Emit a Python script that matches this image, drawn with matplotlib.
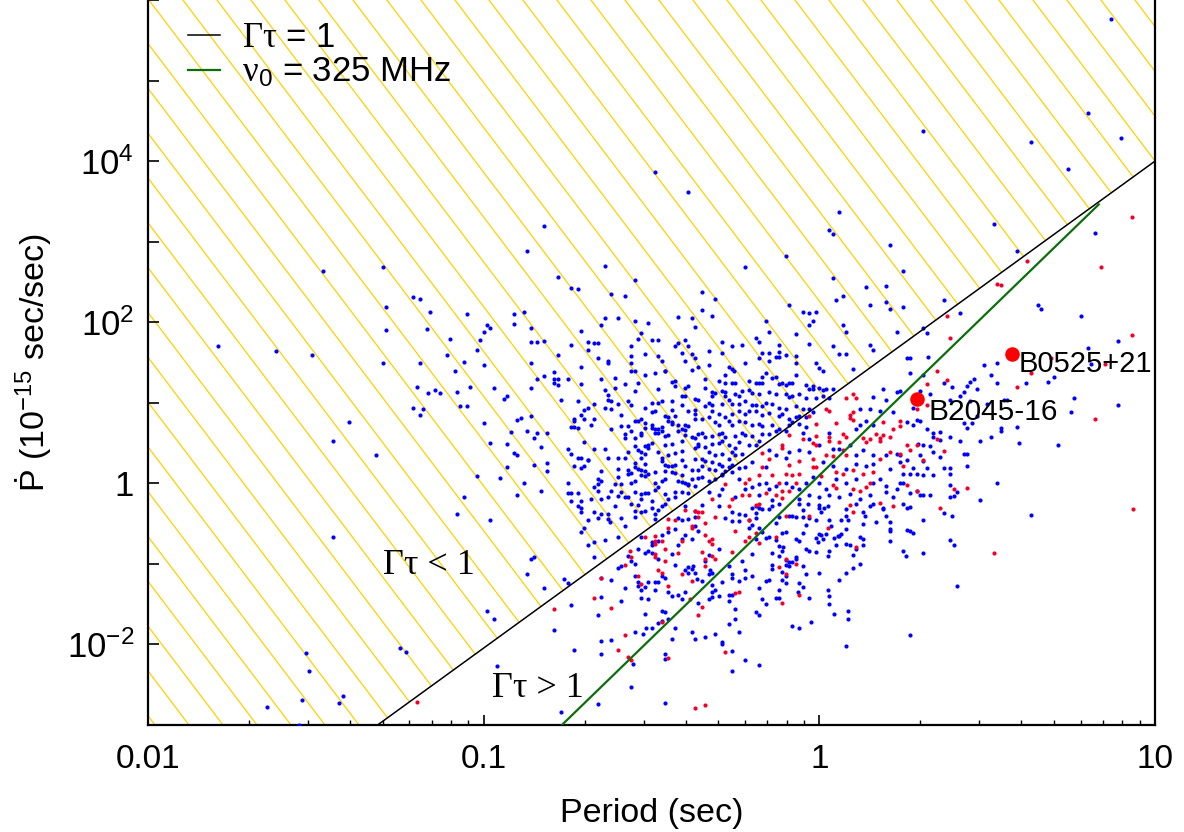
import math
import matplotlib
matplotlib.use("Agg")
import matplotlib.pyplot as plt
from matplotlib.patches import Polygon
from matplotlib.lines import Line2D
from matplotlib.ticker import FixedLocator, FuncFormatter, NullLocator, LogLocator

plt.rcParams['font.family'] = ['Liberation Sans', 'DejaVu Sans']
plt.rcParams['mathtext.fontset'] = 'custom'
plt.rcParams['mathtext.rm'] = 'Liberation Serif'
plt.rcParams['mathtext.it'] = 'Liberation Serif:italic'
plt.rcParams['mathtext.sf'] = 'Liberation Sans'

# ---------------- data (log10 P [s], log10 Pdot [1e-15 s/s]) ----------------
gamma_line_P = [0.0483, 10.0]          # Gamma*tau = 1
gamma_line_Pdot = [1.0e-3, 1.0e4]
nu_line_P = [0.171, 6.8]               # nu0 = 325 MHz
nu_line_Pdot = [1.0e-3, 2.9e3]

named_P = [3.75, 1.96]
named_Pdot = [40.0, 11.0]
named_labels = ['B0525+21', 'B2045-16']

blue_log = [
    # upper-left sparse
    (-1.48, 2.63), (-1.30, 2.68), (-1.29, 2.19), (-1.21, 2.31), (-1.19, 2.29), (-1.16, 2.13),
    (-1.05, 2.10), (-1.29, 1.90), (-1.17, 1.92), (-1.10, 1.79), (-1.01, 1.78), (-1.00, 1.88),
    (-0.99, 1.97), (-0.98, 1.93), (-1.79, 1.71), (-1.62, 1.64), (-1.51, 1.59), (-1.30, 1.50),
    (-1.19, 1.50), (-1.11, 1.59), (-1.06, 1.51), (-1.02, 1.66), (-1.00, 1.47),
    # upper middle
    (-0.49, 3.86), (-0.39, 3.62), (-0.82, 3.19), (-0.87, 2.88), (-0.64, 2.70), (-0.78, 2.56),
    (-0.55, 2.53), (-0.22, 2.68), (-0.10, 2.82), (0.06, 3.37), (0.03, 3.14), (0.04, 3.09), (0.04, 2.55),
    # upper right
    (0.87, 5.76), (0.31, 4.38), (0.63, 4.24), (0.80, 4.60), (0.90, 4.29), (0.74, 3.90), (0.52, 3.22),
    (0.21, 2.96), (0.25, 2.63), (0.59, 2.88), (0.82, 3.11),
    # lower-left
    (-1.085, 1.40), (-1.20, 1.19), (-1.165, 1.12), (-1.145, 1.16), (-1.13, 1.12), (-1.08, 1.13),
    (-1.04, 1.20), (-0.97, 1.18), (-1.21, 0.93), (-1.19, 0.85), (-1.18, 0.92), (-1.07, 0.96),
    (-1.05, 0.96), (-1.00, 0.75), (-0.98, 0.50), (-1.40, 0.76), (-1.45, 0.52), (-1.32, 0.35),
    (-1.02, 0.09), (-1.06, -0.17), (-1.08, -0.38), (-0.98, -0.45), (-1.45, -0.67), (-0.99, -1.59),
    (-0.97, -1.69), (-1.25, -2.05), (-1.23, -2.09), (-1.53, -2.11), (-1.52, -2.33), (-1.42, -2.64),
    (-1.43, -2.73), (-1.54, -2.69), (-1.645, -2.78), (-1.55, -3.0), (-0.96, -2.27),
    # centre-left block
    (-0.74, 2.43), (-0.72, 2.41), (-0.62, 2.35), (-0.58, 2.32), (-0.91, 2.10), (-0.88, 2.13),
    (-0.91, 1.98), (-0.64, 2.05), (-0.60, 2.05), (-0.65, 1.97), (-0.55, 2.02), (-0.51, 1.99),
    (-0.42, 2.07), (-0.38, 2.05), (-0.86, 1.93), (-0.71, 1.89), (-0.53, 1.87), (-0.37, 1.94),
    (-0.86, 1.76), (-0.84, 1.76), (-0.82, 1.77), (-0.74, 1.72), (-0.69, 1.76), (-0.67, 1.74),
    (-0.66, 1.74), (-0.69, 1.66), (-0.54, 1.79), (-0.56, 1.71), (-0.50, 1.78), (-0.48, 1.78),
    (-0.43, 1.71), (-0.42, 1.74), (-0.40, 1.78), (-0.39, 1.71), (-0.78, 1.59), (-0.66, 1.55),
    (-0.63, 1.52), (-0.63, 1.50), (-0.56, 1.58), (-0.52, 1.61), (-0.48, 1.58), (-0.47, 1.52),
    (-0.41, 1.62), (-0.38, 1.60), (-0.37, 1.55), (-0.86, 1.49), (-0.71, 1.44), (-0.56, 1.49),
    (-0.56, 1.40), (-0.55, 1.40), (-0.49, 1.37), (-0.46, 1.40), (-0.46, 1.39), (-0.40, 1.52),
    (-0.38, 1.41), (-0.36, 1.44), (-0.79, 1.38), (-0.84, 1.30), (-0.82, 1.33), (-0.79, 1.30),
    (-0.78, 1.30), (-0.79, 1.24), (-0.78, 1.22), (-0.75, 1.29), (-0.71, 1.23), (-0.65, 1.29),
    (-0.61, 1.31), (-0.58, 1.23), (-0.54, 1.24), (-0.52, 1.34), (-0.43, 1.27), (-0.44, 1.26),
    (-0.43, 1.21), (-0.40, 1.18), (-0.39, 1.21), (-0.86, 1.18), (-0.55, 1.15), (-0.48, 1.17),
    (-0.64, 1.16), (-0.61, 1.18), (-0.93, 1.09), (-0.94, 1.05), (-0.77, 1.03), (-0.72, 1.02),
    (-0.69, 0.94), (-0.67, 0.98), (-0.70, 0.91), (-0.63, 1.10), (-0.63, 1.04), (-0.62, 1.02),
    (-0.60, 0.98), (-0.57, 1.02), (-0.56, 0.97), (-0.50, 1.00), (-0.48, 1.00), (-0.47, 1.02),
    (-0.44, 1.02), (-0.41, 1.08), (-0.40, 1.08), (-0.37, 1.05), (-0.41, 0.97), (-0.64, 0.94),
    (-0.62, 0.92), (-0.59, 0.85), (-0.52, 0.93), (-0.50, 0.89), (-0.49, 0.90), (-0.44, 0.91),
    (-0.39, 0.90), (-0.37, 0.91), (-0.89, 0.81), (-0.90, 0.79), (-0.86, 0.83), (-0.73, 0.80),
    (-0.71, 0.85), (-0.70, 0.80), (-0.73, 0.78), (-0.74, 0.70), (-0.73, 0.70), (-0.72, 0.69),
    (-0.68, 0.72), (-0.67, 0.80), (-0.62, 0.68), (-0.59, 0.71), (-0.57, 0.71), (-0.55, 0.78),
    (-0.54, 0.78), (-0.53, 0.80), (-0.52, 0.75), (-0.52, 0.69), (-0.50, 0.73), (-0.50, 0.69),
    (-0.49, 0.68), (-0.48, 0.67), (-0.47, 0.70), (-0.46, 0.83), (-0.45, 0.82), (-0.45, 0.78),
    (-0.44, 0.76), (-0.43, 0.83), (-0.44, 0.74), (-0.42, 0.73), (-0.41, 0.67), (-0.40, 0.73),
    (-0.39, 0.71), (-0.37, 0.80), (-0.37, 0.86), (-0.92, 0.64), (-0.87, 0.65), (-0.84, 0.63),
    (-0.81, 0.63), (-0.85, 0.56), (-0.93, 0.49), (-0.83, 0.45), (-0.70, 0.51), (-0.58, 0.61),
    (-0.58, 0.56), (-0.56, 0.65), (-0.55, 0.56), (-0.53, 0.63), (-0.53, 0.60), (-0.49, 0.63),
    (-0.48, 0.63), (-0.47, 0.65), (-0.46, 0.59), (-0.45, 0.60), (-0.42, 0.65), (-0.40, 0.66),
    (-0.40, 0.60), (-0.37, 0.56), (-0.36, 0.61), (-0.51, 0.48), (-0.52, 0.46), (-0.50, 0.50),
    (-0.46, 0.48), (-0.44, 0.49), (-0.41, 0.53), (-0.38, 0.57), (-0.37, 0.44), (-0.91, 0.38),
    (-0.90, 0.35), (-0.75, 0.43), (-0.74, 0.37), (-0.67, 0.43), (-0.64, 0.43), (-0.55, 0.46),
    (-0.54, 0.41), (-0.53, 0.39), (-0.53, 0.32), (-0.52, 0.36), (-0.51, 0.44), (-0.48, 0.39),
    (-0.47, 0.31), (-0.45, 0.35), (-0.43, 0.38), (-0.41, 0.40), (-0.36, 0.46), (-0.71, 0.31),
    (-0.72, 0.32), (-0.69, 0.29), (-0.63, 0.31), (-0.60, 0.31), (-0.58, 0.31), (-0.55, 0.25),
    (-0.52, 0.24), (-0.57, 0.39), (-0.57, 0.17), (-0.57, 0.12), (-0.56, 0.13), (-0.55, 0.20),
    (-0.54, 0.18), (-0.53, 0.16), (-0.52, 0.15), (-0.47, 0.28), (-0.46, 0.23), (-0.45, 0.22),
    (-0.44, 0.21), (-0.43, 0.23), (-0.41, 0.29), (-0.40, 0.22), (-0.37, 0.30), (-0.85, 0.23),
    (-0.81, 0.25), (-0.73, 0.22), (-0.71, 0.19), (-0.70, 0.22), (-0.65, 0.15), (-0.69, 0.29),
    (-0.60, 0.18), (-0.53, 0.10), (-0.51, 0.12), (-0.49, 0.14), (-0.46, 0.15), (-0.44, 0.14),
    (-0.43, 0.13), (-0.41, 0.10), (-0.38, 0.17), (-0.36, 0.17), (-0.93, 0.20), (-0.81, 0.15),
    (-0.95, 0.07), (-0.88, 0.00), (-0.66, 0.06), (-0.65, 0.03), (-0.61, -0.01), (-0.59, -0.01),
    (-0.60, 0.08), (-0.56, 0.00), (-0.55, 0.03), (-0.52, 0.09), (-0.49, 0.00), (-0.47, 0.03),
    (-0.46, 0.05), (-0.42, 0.03), (-0.41, 0.02), (-0.40, 0.00), (-0.39, -0.02), (-0.38, 0.06),
    (-0.37, -0.03), (-0.36, 0.07), (-0.83, -0.10), (-0.75, 0.00), (-0.75, -0.12), (-0.74, -0.12),
    (-0.72, -0.12), (-0.67, -0.05), (-0.66, -0.10), (-0.66, -0.01), (-0.62, -0.09), (-0.59, -0.11),
    (-0.57, -0.17), (-0.55, -0.11), (-0.53, -0.13), (-0.52, -0.12), (-0.51, -0.12), (-0.49, -0.08),
    (-0.48, -0.04), (-0.46, -0.13), (-0.43, -0.11), (-0.41, -0.11), (-0.39, -0.12), (-0.39, -0.01),
    (-0.90, -0.14), (-0.74, -0.22), (-0.71, -0.22), (-0.68, -0.19), (-0.65, -0.20), (-0.63, -0.17),
    (-0.60, -0.16), (-0.58, -0.17), (-0.53, -0.20), (-0.50, -0.22), (-0.45, -0.19), (-0.43, -0.17),
    # centre block
    (-0.35, 2.37), (-0.31, 2.29), (-0.35, 2.15), (-0.32, 2.08), (0.14, 2.44), (0.20, 2.45),
    (0.05, 2.27), (0.07, 2.33), (0.20, 2.25), (0.21, 2.17), (0.15, 2.21), (-0.09, 2.22),
    (-0.05, 2.13), (-0.03, 2.12), (-0.01, 2.13), (-0.02, 2.01), (-0.03, 1.97), (-0.16, 2.02),
    (0.07, 1.96), (0.08, 1.88), (0.23, 1.88), (-0.15, 1.88), (-0.07, 1.85), (-0.29, 1.76),
    (-0.26, 1.70), (-0.23, 1.72), (-0.19, 1.81), (-0.18, 1.75), (-0.12, 1.72), (-0.03, 1.73),
    (0.04, 1.71), (0.08, 1.61), (0.06, 1.61), (0.10, 1.42), (0.15, 1.72), (0.16, 1.66),
    (-0.33, 1.64), (-0.29, 1.62), (-0.17, 1.62), (-0.15, 1.62), (-0.12, 1.63), (-0.13, 1.57),
    (-0.12, 1.57), (-0.10, 1.59), (-0.07, 1.58), (-0.22, 1.49), (-0.18, 1.55), (-0.15, 1.52),
    (-0.33, 1.47), (-0.07, 1.49), (-0.01, 1.50), (0.00, 1.43), (0.01, 1.40), (-0.27, 1.44),
    (-0.26, 1.42), (-0.255, 1.40), (-0.28, 1.34), (-0.34, 1.29), (-0.30, 1.27), (-0.28, 1.25),
    (-0.26, 1.25), (-0.25, 1.24), (-0.21, 1.27), (-0.19, 1.25), (-0.18, 1.25), (-0.17, 1.24),
    (-0.17, 1.32), (-0.16, 1.37), (-0.14, 1.31), (-0.13, 1.32), (-0.12, 1.23), (-0.11, 1.25),
    (-0.10, 1.22), (-0.09, 1.25), (-0.08, 1.25), (-0.07, 1.35), (-0.04, 1.22), (-0.02, 1.21),
    (-0.02, 1.17), (0.00, 1.18), (0.01, 1.16), (0.02, 1.17), (0.04, 1.17), (-0.03, 1.17),
    (-0.34, 1.18), (-0.32, 1.13), (-0.32, 1.09), (-0.31, 1.12), (-0.29, 1.15), (-0.28, 1.14),
    (-0.28, 1.09), (-0.25, 1.11), (-0.24, 1.08), (-0.23, 1.15), (-0.21, 1.16), (-0.20, 1.12),
    (-0.18, 1.11), (-0.15, 1.13), (-0.13, 1.11), (-0.10, 1.11), (-0.09, 1.07), (-0.08, 1.09),
    (-0.06, 1.11), (-0.04, 1.06), (-0.01, 1.06), (0.01, 1.08), (0.03, 1.06), (-0.36, 1.03),
    (-0.34, 0.96), (-0.33, 1.00), (-0.32, 0.97), (-0.29, 0.98), (-0.27, 1.04), (-0.26, 0.99),
    (-0.24, 0.99), (-0.22, 1.02), (-0.20, 0.97), (-0.19, 0.97), (-0.17, 0.96), (-0.16, 1.00),
    (-0.14, 0.99), (-0.12, 0.94), (-0.10, 0.92), (-0.07, 0.96), (-0.05, 0.92), (-0.03, 0.92),
    (-0.02, 0.88), (-0.32, 0.90), (-0.30, 0.86), (-0.28, 0.82), (-0.26, 0.86), (-0.24, 0.90),
    (-0.22, 0.86), (-0.21, 0.90), (-0.19, 0.90), (-0.17, 0.85), (-0.15, 0.87), (-0.12, 0.83),
    (-0.11, 0.86), (-0.09, 0.80), (-0.07, 0.82), (-0.06, 0.84), (-0.04, 0.82), (-0.35, 0.80),
    (-0.33, 0.82), (-0.31, 0.76), (-0.30, 0.72), (-0.27, 0.77), (-0.26, 0.72), (-0.24, 0.78),
    (-0.22, 0.76), (-0.20, 0.72), (-0.18, 0.74), (-0.17, 0.71), (-0.14, 0.72), (-0.12, 0.68),
    (-0.10, 0.65), (-0.09, 0.72), (-0.08, 0.76), (-0.06, 0.74), (-0.04, 0.70), (-0.35, 0.63),
    (-0.34, 0.57), (-0.32, 0.59), (-0.30, 0.61), (-0.29, 0.63), (-0.28, 0.57), (-0.25, 0.59),
    (-0.23, 0.63), (-0.22, 0.60), (-0.20, 0.59), (-0.17, 0.61), (-0.15, 0.61), (-0.13, 0.65),
    (-0.36, 0.49), (-0.34, 0.45), (-0.32, 0.49), (-0.30, 0.50), (-0.29, 0.52), (-0.27, 0.48),
    (-0.25, 0.44), (-0.24, 0.51), (-0.21, 0.47), (-0.19, 0.47), (-0.18, 0.53), (-0.33, 0.39),
    (-0.31, 0.35), (-0.29, 0.37), (-0.27, 0.30), (-0.26, 0.39), (-0.25, 0.35), (-0.23, 0.37),
    (-0.35, 0.30), (-0.34, 0.28), (-0.32, 0.26), (-0.30, 0.24), (-0.29, 0.22), (-0.27, 0.20),
    (-0.26, 0.23), (-0.35, 0.22), (-0.33, 0.18), (-0.31, 0.16), (-0.29, 0.12), (-0.28, 0.15),
    (-0.26, 0.14), (-0.24, 0.19), (-0.35, 0.08), (-0.33, 0.03), (-0.31, 0.05), (-0.29, 0.10),
    (0.12, 0.92), (0.15, 0.92), (0.18, 0.90), (0.20, 1.03), (0.23, 1.13), (0.16, 1.07),
    (0.19, 1.17), (0.14, 0.77), (0.16, 0.72), (0.22, 0.88), (0.11, 0.68), (0.12, 0.72),
    (0.03, 0.63), (-0.05, 0.63), (-0.03, 0.55), (0.00, 0.47), (0.04, 0.43), (0.06, 0.43),
    (0.09, 0.47), (0.11, 0.35), (0.13, 0.41), (0.16, 0.35), (0.20, 0.35), (0.23, 0.37),
    (0.24, 0.26), (0.21, 0.18), (0.16, 0.24), (0.14, 0.22), (0.11, 0.24), (0.08, 0.18),
    (0.04, 0.22), (0.01, 0.26), (-0.03, 0.39), (-0.06, 0.41), (-0.09, 0.39), (-0.10, 0.32),
    (-0.13, 0.35), (-0.15, 0.41), (-0.16, 0.20), (-0.20, 0.26), (-0.22, 0.20), (-0.24, 0.05),
    (-0.22, -0.07), (-0.20, -0.05), (-0.18, -0.01), (-0.16, 0.01), (-0.15, -0.07), (-0.13, -0.03),
    (-0.10, 0.01), (-0.08, -0.04), (-0.06, -0.07), (-0.04, 0.01), (-0.02, 0.08), (0.00, 0.01),
    (0.02, -0.07), (0.05, 0.05), (0.08, 0.01), (0.11, 0.05), (0.16, 0.01), (0.18, 0.05),
    (0.20, -0.03), (0.23, -0.07), (0.24, 0.01), (-0.29, -0.07), (-0.30, -0.15), (-0.25, -0.17),
    (-0.18, -0.15), (-0.14, -0.21), (-0.06, -0.19), (-0.03, -0.15), (0.00, -0.17), (0.03, -0.15),
    (0.06, -0.17), (0.09, -0.13), (0.12, -0.19), (0.15, -0.15), (0.20, -0.11), (0.22, -0.17),
    (-0.33, -0.11),
    # right block
    (0.25, 2.19), (0.37, 2.28), (0.42, 2.12), (0.31, 1.93), (0.32, 1.87), (0.65, 2.21),
    (0.66, 2.17), (0.78, 2.08), (0.89, 1.77), (0.80, 1.68), (0.26, 1.56), (0.27, 1.56),
    (0.325, 1.57), (0.49, 1.47), (0.53, 1.49), (0.51, 1.34), (0.53, 1.25), (0.45, 1.26),
    (0.46, 1.29), (0.44, 1.21), (0.47, 1.17), (0.43, 1.13), (0.395, 1.19), (0.615, 1.24),
    (0.68, 1.26), (0.70, 1.32), (0.81, 1.48), (0.27, 1.37), (0.31, 1.35), (0.37, 1.25),
    (0.24, 1.15), (0.30, 1.15), (0.33, 1.11), (0.42, 1.09), (0.39, 1.04), (0.45, 1.02),
    (0.50, 0.99), (0.55, 1.04), (0.56, 1.03), (0.76, 1.06), (0.75, 0.89), (0.89, 0.97),
    (0.28, 0.94), (0.26, 0.76), (0.28, 0.72), (0.29, 0.79), (0.30, 0.77), (0.32, 0.68),
    (0.34, 0.63), (0.34, 0.58), (0.36, 0.64), (0.39, 0.58), (0.43, 0.75), (0.44, 0.69),
    (0.455, 0.75), (0.47, 0.84), (0.42, 0.53), (0.48, 0.53), (0.51, 0.58), (0.54, 0.69),
    (0.54, 0.65), (0.59, 0.70), (0.595, 0.50), (0.71, 0.48), (0.295, 0.49), (0.31, 0.48),
    (0.33, 0.46), (0.36, 0.54), (0.36, 0.33), (0.34, 0.39), (0.30, 0.35), (0.31, 0.28),
    (0.32, 0.19), (0.34, 0.10), (0.37, 0.19), (0.39, 0.19), (0.39, 0.11), (0.43, 0.36),
    (0.44, 0.37), (0.44, 0.22), (0.48, -0.21), (0.53, 0.00), (0.39, -0.02), (0.41, -0.11),
    (0.40, -0.16), (0.39, -0.17), (0.25, 0.11), (0.27, 0.12), (0.26, 0.29), (0.24, 0.35),
    (0.28, 0.19), (0.29, 0.11), (0.31, 0.10), (0.27, -0.12), (0.29, -0.10), (0.30, -0.15),
    (0.31, -0.14), (0.33, -0.14), (0.25, 0.01),
    # lower-centre-left
    (-0.71, -0.30), (-0.71, -0.35), (-0.72, -0.28), (-0.69, -0.46), (-0.67, -0.36), (-0.66, -0.43),
    (-0.65, -0.38), (-0.63, -0.44), (-0.625, -0.48), (-0.63, -0.38), (-0.61, -0.28), (-0.59, -0.43),
    (-0.58, -0.53), (-0.56, -0.26), (-0.55, -0.34), (-0.55, -0.42), (-0.54, -0.27), (-0.53, -0.36),
    (-0.52, -0.34), (-0.50, -0.30), (-0.49, -0.44), (-0.49, -0.38), (-0.48, -0.33), (-0.47, -0.28),
    (-0.46, -0.26), (-0.71, -0.61), (-0.70, -0.56), (-0.69, -0.77), (-0.67, -0.73), (-0.64, -0.70),
    (-0.67, -0.91), (-0.60, -0.66), (-0.86, -0.94), (-0.85, -0.92), (-0.87, -1.13), (-0.82, -1.30),
    (-0.76, -1.19), (-0.75, -1.24), (-0.74, -1.51), (-0.79, -1.82),
    (-0.40, -0.28), (-0.42, -0.43), (-0.41, -0.46), (-0.39, -0.44), (-0.37, -0.42), (-0.37, -0.53),
    (-0.37, -0.34), (-0.43, -0.57), (-0.45, -0.60), (-0.47, -0.64), (-0.48, -0.71), (-0.50, -0.73),
    (-0.51, -0.84), (-0.50, -0.86), (-0.50, -0.77), (-0.48, -0.94), (-0.52, -0.86), (-0.53, -0.67),
    (-0.54, -0.82), (-0.55, -1.00), (-0.56, -0.97), (-0.57, -0.90), (-0.59, -1.02), (-0.60, -1.05),
    (-0.62, -1.20), (-0.65, -1.17), (-0.65, -1.41), (-0.66, -1.64), (-0.65, -1.96), (-0.62, -1.94),
    (-0.59, -1.46), (-0.58, -1.30), (-0.55, -1.15), (-0.54, -1.22), (-0.54, -1.27), (-0.53, -1.33),
    (-0.52, -1.29), (-0.51, -1.23), (-0.51, -1.44), (-0.49, -1.23), (-0.48, -1.22), (-0.49, -1.33),
    (-0.47, -1.15), (-0.46, -1.18), (-0.45, -1.35), (-0.45, -1.69), (-0.44, -1.40), (-0.42, -1.39),
    (-0.41, -1.44), (-0.40, -1.08), (-0.39, -1.11), (-0.39, -1.04), (-0.38, -1.06), (-0.375, -1.02),
    (-0.37, -1.11), (-0.365, -1.19), (-0.36, -1.48), (-0.40, -1.35), (-0.43, -1.01), (-0.44, -0.88),
    (-0.42, -0.77), (-0.41, -0.69), (-0.40, -0.64), (-0.38, -0.69), (-0.36, -0.59), (-0.47, -1.58),
    (-0.46, -1.60), (-0.47, -1.71), (-0.50, -1.79), (-0.515, -1.79), (-0.525, -1.87), (-0.55, -1.84),
    (-0.52, -1.62), (-0.48, -1.73), (-0.43, -1.79), (-0.38, -1.85), (-0.37, -1.93), (-0.44, -1.93),
    (-0.46, -2.12), (-0.46, -2.18), (-0.555, -2.24), (-0.56, -2.53), (-0.65, -2.12), (-0.73, -2.07),
    (-0.77, -2.84), (-0.66, -2.74), (-0.46, -2.73), (-0.53, -1.42),
    # lower-centre
    (-0.35, -0.27), (-0.30, -0.28), (-0.26, -0.35), (-0.28, -0.43), (-0.26, -0.47), (-0.24, -0.47),
    (-0.24, -0.38), (-0.22, -0.39), (-0.21, -0.45), (-0.20, -0.30), (-0.19, -0.28), (-0.18, -0.31),
    (-0.17, -0.32), (-0.19, -0.37), (-0.19, -0.43), (-0.21, -0.56), (-0.20, -0.52), (-0.18, -0.56),
    (-0.15, -0.32), (-0.14, -0.28), (-0.12, -0.26), (-0.12, -0.42), (-0.09, -0.41), (-0.08, -0.40),
    (-0.07, -0.42), (-0.06, -0.26), (-0.035, -0.26), (-0.13, -0.49), (-0.17, -0.60), (-0.15, -0.67),
    (-0.13, -0.70), (-0.11, -0.62), (-0.10, -0.61), (-0.12, -0.78), (-0.11, -0.84), (-0.107, -0.79),
    (-0.12, -0.90), (-0.10, -0.95), (-0.09, -0.98), (-0.08, -0.98), (-0.10, -1.01), (-0.09, -1.03),
    (-0.11, -1.10), (-0.14, -1.01), (-0.14, -0.86), (-0.16, -0.68), (-0.19, -0.69), (-0.20, -0.88),
    (-0.23, -0.97), (-0.22, -1.07), (-0.20, -1.15), (-0.22, -1.17), (-0.24, -1.21), (-0.26, -1.13),
    (-0.26, -1.18), (-0.27, -1.03), (-0.30, -0.82), (-0.33, -0.89), (-0.34, -0.97), (-0.33, -1.13),
    (-0.32, -1.11), (-0.325, -1.08), (-0.32, -1.26), (-0.29, -1.23), (-0.35, -1.21), (-0.32, -1.35),
    (-0.31, -1.33), (-0.30, -1.40), (-0.32, -1.41), (-0.33, -1.44), (-0.27, -1.39), (-0.26, -1.39),
    (-0.27, -1.46), (-0.18, -1.30), (-0.16, -1.21), (-0.15, -1.20), (-0.14, -1.06), (-0.12, -1.32),
    (-0.12, -1.42), (-0.11, -1.20), (-0.10, -1.24), (-0.10, -1.15), (-0.07, -0.69), (-0.06, -0.72),
    (-0.05, -0.62), (-0.04, -0.52), (-0.05, -0.42), (-0.05, -0.33), (-0.03, -0.43), (-0.01, -0.45),
    (0.00, -0.31), (0.00, -0.27), (0.015, -0.30), (0.025, -0.28), (0.005, -0.36), (0.03, -0.45),
    (0.035, -0.53), (0.02, -0.63), (0.005, -0.64), (-0.01, -0.68), (-0.005, -0.73), (-0.03, -0.84),
    (-0.04, -0.82), (-0.07, -0.92), (-0.07, -0.94), (-0.05, -1.02), (-0.04, -1.13), (-0.06, -1.24),
    (-0.065, -1.35), (-0.05, -1.29), (-0.03, -1.42), (-0.01, -0.85), (0.00, -0.63), (0.01, -0.69),
    (0.03, -0.84), (0.00, -1.11), (0.045, -0.68), (0.05, -0.76), (0.055, -0.65), (0.06, -0.65),
    (0.065, -0.63), (0.08, -0.75), (0.09, -0.77), (0.11, -0.82), (0.10, -0.89), (0.12, -0.67),
    (0.13, -0.77), (0.13, -0.69), (0.08, -0.57), (0.08, -0.40), (0.085, -0.46), (0.065, -0.45),
    (0.08, -0.32), (0.11, -0.26), (0.13, -0.36), (0.135, -0.40), (0.15, -0.28), (0.16, -0.26),
    (0.17, -0.48), (0.19, -0.30), (0.19, -0.32), (0.20, -0.40), (0.21, -0.48), (0.21, -0.57),
    (0.21, -0.59), (0.21, -0.71), (0.13, -0.50), (0.12, -1.00), (0.10, -1.05), (0.08, -1.11),
    (0.06, -1.20), (0.03, -1.40), (0.025, -1.33), (0.03, -1.50), (0.045, -1.62), (0.085, -1.59),
    (0.085, -1.69), (0.08, -2.02), (0.025, -0.90), (-0.025, -1.72), (-0.06, -1.79), (-0.08, -1.77),
    (-0.17, -1.44), (-0.16, -1.50), (-0.19, -1.60), (-0.18, -1.64), (-0.27, -1.75), (-0.25, -1.69),
    (-0.25, -1.56), (-0.24, -1.84), (-0.31, -1.87), (-0.34, -1.91), (-0.29, -1.97), (-0.29, -2.00),
    (-0.26, -2.08), (-0.22, -2.19), (-0.18, -2.26), (-0.26, -2.33), (-0.13, -1.42),
    # lower right
    (0.25, -0.26), (0.26, -0.31), (0.27, -0.29), (0.31, -0.46), (0.37, -0.37), (0.395, -0.41),
    (0.63, -0.39), (0.26, -0.58), (0.27, -0.59), (0.28, -0.62), (0.39, -0.70), (0.40, -0.76),
    (0.25, -0.84), (0.257, -0.90), (0.31, -0.87), (0.41, -1.27), (0.27, -1.88),
]

red_log = [
    (0.62, 2.76), (0.93, 3.31), (0.84, 2.69), (0.53, 2.47), (-1.20, -2.72),
    (0.08, 1.06), (0.10, 1.11), (0.11, 1.06), (0.02, 0.92), (0.03, 0.90), (0.09, 0.85),
    (0.10, 0.88), (0.09, 0.81), (0.10, 0.79), (-0.03, 0.84), (-0.01, 0.74), (0.05, 0.75),
    (0.07, 0.61), (0.08, 0.57), (0.06, 0.51), (0.03, 0.57), (0.03, 0.52), (-0.09, 0.60),
    (-0.11, 0.47), (-0.02, 0.50), (-0.01, 0.47), (-0.01, 0.59), (-0.05, 0.55), (-0.17, 0.38),
    (-0.15, 0.30), (-0.09, 0.23), (-0.11, 0.44), (-0.06, 0.28), (-0.02, 0.30), (0.02, 0.35),
    (0.04, 0.34), (0.07, 0.41), (0.08, 0.35), (0.13, 0.56), (0.14, 0.51), (0.15, 0.55),
    (0.17, 0.61), (0.18, 0.56), (0.19, 0.60), (0.21, 0.58), (0.18, 0.52), (0.19, 0.76),
    (0.22, 0.68), (0.21, 0.39), (0.24, 0.78), (-0.28, -0.01), (-0.26, -0.19), (-0.22, 0.01),
    (-0.21, 0.05), (-0.18, 0.10), (-0.17, 0.20), (-0.14, 0.10), (-0.12, 0.01), (-0.11, -0.09),
    (-0.10, 0.12), (-0.08, 0.10), (-0.07, 0.01), (-0.06, 0.11), (-0.02, 0.20), (-0.01, 0.20),
    (0.005, 0.09), (0.05, 0.14), (0.07, 0.12), (0.05, -0.06), (0.04, -0.02), (0.10, -0.07),
    (0.10, 0.16), (0.13, 0.12), (0.15, 0.01), (0.14, -0.04), (0.12, -0.09), (0.16, 0.14),
    (0.18, 0.30), (-0.32, -0.20), (-0.23, -0.15), (-0.21, -0.15), (-0.16, -0.12), (-0.13, -0.15),
    (-0.09, -0.10), (-0.11, -0.18),
    (0.54, 2.46), (0.38, 2.08), (0.39, 1.81), (0.35, 1.40), (0.38, 1.28), (0.32, 1.23),
    (0.59, 1.19), (0.93, 1.84), (0.82, 0.80), (0.69, 1.55), (0.85, 1.48), (0.63, 1.37),
    (0.29, 0.92), (0.32, 0.97), (0.24, 0.71), (0.35, 0.55), (0.29, 0.48), (0.27, 0.42),
    (0.37, 0.40), (0.31, 0.29), (0.26, 0.48), (0.25, 0.22), (0.24, 0.36), (0.26, -0.02),
    (0.40, -0.07), (0.44, -0.06), (0.29, -0.10),
    (-0.52, -0.67), (-0.49, -0.65), (-0.49, -0.71), (-0.49, -0.75), (-0.47, -0.72), (-0.46, -0.82),
    (-0.45, -0.55), (-0.45, -0.44), (-0.43, -0.46), (-0.40, -0.33), (-0.38, -0.53), (-0.38, -0.55),
    (-0.37, -0.34), (-0.36, -0.42), (-0.565, -0.84), (-0.56, -0.91), (-0.58, -1.01), (-0.54, -1.15),
    (-0.53, -1.25), (-0.49, -0.88), (-0.49, -0.92), (-0.48, -1.08), (-0.47, -1.11), (-0.46, -0.97),
    (-0.42, -0.87), (-0.41, -1.13), (-0.41, -0.72), (-0.385, -1.44), (-0.38, -1.21), (-0.36, -1.64),
    (-0.45, -1.28), (-0.47, -1.72), (-0.65, -1.17), (-0.67, -1.42), (-0.62, -1.55), (-0.79, -1.56),
    (-0.58, -1.88), (-0.60, -2.07), (-0.57, -2.16), (-0.56, -2.19), (-0.45, -2.17), (-0.37, -2.79),
    (-0.36, -0.35), (-0.35, -0.35), (-0.31, -0.42), (-0.34, -0.49), (-0.34, -0.64), (-0.33, -0.71),
    (-0.32, -0.69), (-0.32, -0.75), (-0.35, -0.85), (-0.34, -0.94), (-0.32, -0.90), (-0.31, -0.94),
    (-0.34, -1.02), (-0.27, -0.28), (-0.21, -0.45), (-0.21, -0.66), (-0.25, -0.59), (-0.26, -0.85),
    (-0.19, -0.27), (-0.18, -0.26), (-0.19, -0.62), (-0.18, -0.74), (-0.22, -0.71), (-0.13, -0.66),
    (-0.10, -0.40), (-0.03, -0.40), (0.025, -0.55), (0.09, -0.27), (0.10, -0.35), (0.11, -0.79),
    (-0.10, -0.94), (-0.07, -1.00), (-0.12, -1.04), (-0.10, -1.13), (-0.06, -1.39), (-0.25, -1.36),
    (-0.24, -1.35), (-0.11, -1.49), (-0.35, -1.54), (-0.28, -2.09), (-0.34, -2.75), (0.18, -0.25),
    (0.22, -0.28),
    (0.36, -0.31), (0.52, -0.87), (0.934, -0.32),
]

blue_P = [10 ** p for p, d in blue_log]
blue_Pdot = [10 ** d for p, d in blue_log]
red_P = [10 ** p for p, d in red_log]
red_Pdot = [10 ** d for p, d in red_log]

# ---------------- figure ----------------
W_PX, H_PX = 1007, 725
fig = plt.figure(figsize=(11.84, 8.32), dpi=100)
ax = fig.add_axes([148 / 1184, 107 / 832, W_PX / 1184, H_PX / 832])
ax.set_xscale('log')
ax.set_yscale('log')
ax.set_xlim(0.01, 10)
ax.set_ylim(1e-3, 1e6)

xl = ax.get_xlim()
yl = ax.get_ylim()
region = Polygon([(xl[0], yl[0]), (gamma_line_P[0], gamma_line_Pdot[0]),
                  (gamma_line_P[1], gamma_line_Pdot[1]), (xl[1], yl[1]), (xl[0], yl[1])],
                 closed=True, facecolor='none', edgecolor='none', transform=ax.transData)
ax.add_patch(region)

# hatching (thin gold diagonal lines), clipped to the Gamma*tau < 1 region
slope = 1.318
spacing = 34.0
shift = H_PX / slope
for k in range(-5, 50):
    x0 = (7 + spacing * k) / W_PX
    ln = Line2D([x0, x0 - shift / W_PX], [0, 1], transform=ax.transAxes,
                color='#FFD000', lw=0.9, zorder=1)
    ax.add_line(ln)
    ln.set_clip_path(region)

ax.scatter(blue_P, blue_Pdot, s=9, color='#0000FF', linewidths=0, zorder=3)
ax.scatter(red_P, red_Pdot, s=9, color='#F2002A', linewidths=0, zorder=3)

l1, = ax.plot(gamma_line_P, gamma_line_Pdot, color='black', lw=1.1, zorder=4)
l2, = ax.plot(nu_line_P, nu_line_Pdot, color='#0B6E0B', lw=1.6, zorder=4)

ax.scatter(named_P, named_Pdot, s=110, color='#FF0000', linewidths=0, zorder=5)
ax.annotate(named_labels[0], (named_P[0], named_Pdot[0]), xytext=(5, -7),
            textcoords='offset points', ha='left', va='center', fontsize=21)
ax.annotate(named_labels[1], (named_P[1], named_Pdot[1]), xytext=(8, -9),
            textcoords='offset points', ha='left', va='center', fontsize=21.5)

ax.text(0.0685, 0.095, 'Γτ < 1', family='Liberation Serif', fontsize=26,
        ha='center', va='center')
ax.text(0.145, 0.0028, 'Γτ > 1', family='Liberation Serif', fontsize=26,
        ha='center', va='center')

leg = ax.legend([l1, l2], [r'$\mathrm{\Gamma\tau}$ = 1', r'$\mathrm{\nu}_{\mathsf{0}}$ = 325 MHz'],
                loc='upper left', bbox_to_anchor=(0.040, 0.971), frameon=False, fontsize=25,
                handlelength=0.92, handletextpad=0.62, labelspacing=0.06, borderpad=0.0,
                borderaxespad=0.0)

# axes styling
for side in ['left', 'bottom', 'right']:
    ax.spines[side].set_linewidth(1.6)
ax.spines['top'].set_visible(False)

xlab = {0.01: '0.01', 0.1: '0.1', 1: '1', 10: '10'}
ax.xaxis.set_major_locator(FixedLocator([0.01, 0.1, 1, 10]))
ax.xaxis.set_major_formatter(FuncFormatter(lambda v, p: xlab.get(round(v, 3), '')))
ax.xaxis.set_minor_locator(LogLocator(base=10, subs=range(2, 10)))
ax.yaxis.set_major_locator(FixedLocator([10.0 ** e for e in range(-3, 7)]))
ylab = {-2: r'$\mathdefault{10^{-2}}$', 0: '1', 2: r'$\mathdefault{10^{2}}$', 4: r'$\mathdefault{10^{4}}$'}
ax.yaxis.set_major_formatter(FuncFormatter(lambda v, p: ylab.get(int(round(math.log10(v))), '')))
ax.yaxis.set_minor_locator(NullLocator())

ax.tick_params(axis='both', which='major', direction='in', labelsize=24, width=1.2)
ax.tick_params(axis='x', which='major', length=7, pad=14)
ax.tick_params(axis='x', which='minor', direction='in', length=3.5, width=1.0)
ax.tick_params(axis='y', which='major', length=8, pad=10)
ax.tick_params(axis='y', which='major', labelsize=25)
ax.tick_params(top=False, right=False, which='both')

ax.set_xlabel('Period (sec)', fontsize=24.5, labelpad=16)
ax.set_ylabel(r'Ṗ (10$^{\mathdefault{-15}}$ sec/sec)', fontsize=24.5, labelpad=10)

fig.savefig('out.png', dpi=100)
